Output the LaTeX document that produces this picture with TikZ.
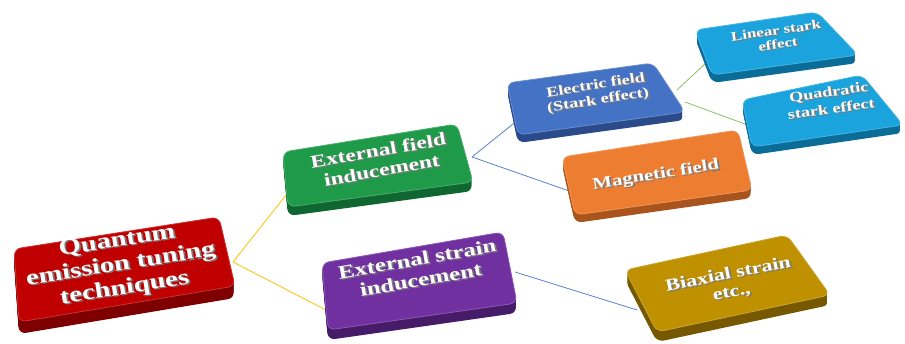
\documentclass[tikz,border=0pt]{standalone}
\usepackage{fontspec}
\setmainfont{Liberation Serif}
\definecolor{redtop}{HTML}{C00000}\definecolor{redside}{HTML}{7E0000}
\definecolor{grntop}{HTML}{1F9A48}\definecolor{grnside}{HTML}{0F6630}
\definecolor{purtop}{HTML}{7030A0}\definecolor{purside}{HTML}{461C68}
\definecolor{blutop}{HTML}{4472C4}\definecolor{bluside}{HTML}{2A4A8A}
\definecolor{orgtop}{HTML}{ED7D31}\definecolor{orgside}{HTML}{A9541C}
\definecolor{cyntop}{HTML}{1AA3DC}\definecolor{cynside}{HTML}{0B6C98}
\definecolor{gldtop}{HTML}{BF9000}\definecolor{gldside}{HTML}{765800}
\definecolor{lnyellow}{HTML}{FFC000}
\definecolor{lnblue}{HTML}{5B83CC}
\definecolor{lngreen}{HTML}{8DBF62}
\definecolor{txshadow}{HTML}{7A7A7A}
\newcommand\slab[7]{%
  \foreach \k in {1,...,#3}{\fill[#2, rounded corners=7pt, shift={(0,\k)}] #4 -- #5 -- #6 -- #7 -- cycle;}
  \fill[#1, rounded corners=7pt] #4 -- #5 -- #6 -- #7 -- cycle;
  \draw[#1!80!white, line width=0.8pt, rounded corners=7pt] #4 -- #5 -- #6 -- #7 -- cycle;}
\newcommand\sh[1]{\rlap{\kern1.3pt\raisebox{-1.3pt}{\textcolor{txshadow}{#1}}}#1}
\newcommand\btext[6]{%
  \node[txt, rotate=#3, xscale=1.3, font=\fontsize{#4}{#5}\selectfont\bfseries] (#1) at #2 {#6};}
\begin{document}
\begin{tikzpicture}[x=1pt, y=-1pt,
  txt/.style={text=white, align=center, inner sep=0pt},
  conn/.style={line width=0.8pt}]
\useasboundingbox (0,0) rectangle (905,344);
% connection points
\coordinate (redR) at (233,262);
\coordinate (grnL) at (290,190);
\coordinate (purL) at (326,310);
\coordinate (grnR) at (472,157);
\coordinate (eleL) at (518,120);
\coordinate (orgL) at (572,192);
\coordinate (purR) at (515,272);
\coordinate (biaL) at (637,310);
\coordinate (eleR1) at (677,90);
\coordinate (linL) at (707,62);
\coordinate (eleR2) at (685,102);
\coordinate (quaL) at (753,127);
% connectors
\draw[conn, lnyellow] (redR) -- (grnL);
\draw[conn, lnyellow] (redR) -- (purL);
\draw[conn, lnblue] (grnR) -- (eleL);
\draw[conn, lnblue] (grnR) -- (orgL);
\draw[conn, lnblue] (purR) -- (biaL);
\draw[conn, lngreen] (eleR1) -- (linL);
\draw[conn, lngreen] (eleR2) -- (quaL);
% boxes
\slab{redtop}{redside}{12}{(14,249)}{(219,217)}{(235,286)}{(19,322)}
\slab{grntop}{grnside}{9}{(283,152)}{(457,124)}{(473,182)}{(288,207)}
\slab{purtop}{purside}{10}{(322,263)}{(503,232)}{(517,303)}{(328,330)}
\slab{blutop}{bluside}{8}{(507,83)}{(653,63)}{(685,112)}{(518,135)}
\slab{orgtop}{orgside}{8}{(562,157)}{(738,130)}{(752,190)}{(575,215)}
\slab{cyntop}{cynside}{8}{(695,30)}{(817,12)}{(858,55)}{(712,75)}
\slab{cyntop}{cynside}{8}{(742,100)}{(862,75)}{(903,125)}{(752,147)}
\slab{gldtop}{gldside}{10}{(625,270)}{(787,235)}{(830,295)}{(657,332)}
% texts
\btext{qet}{(121,266)}{9}{22}{24}{\sh{Quantum}\\\sh{emission tuning}\\\sh{techniques}}
\btext{efi}{(380,161)}{10}{18}{20}{\sh{External field}\\\sh{inducement}}
\btext{esi}{(419,270)}{10}{19}{21}{\sh{External strain}\\\sh{inducement}}
\btext{ele}{(597,94)}{9}{14}{15}{\sh{Electric field}\\\sh{(Stark effect)}}
\btext{mag}{(656,176)}{9}{16}{18}{\sh{Magnetic field}}
\btext{lin}{(777,38)}{8}{13}{14}{\sh{Linear stark}\\\sh{effect}}
\btext{qua}{(830,101)}{8}{14}{17}{\sh{Quadratic}\\\sh{stark effect}}
\btext{bia}{(730,284)}{11}{17}{18}{\sh{Biaxial strain}\\\sh{etc.,}}
\end{tikzpicture}
\end{document}
